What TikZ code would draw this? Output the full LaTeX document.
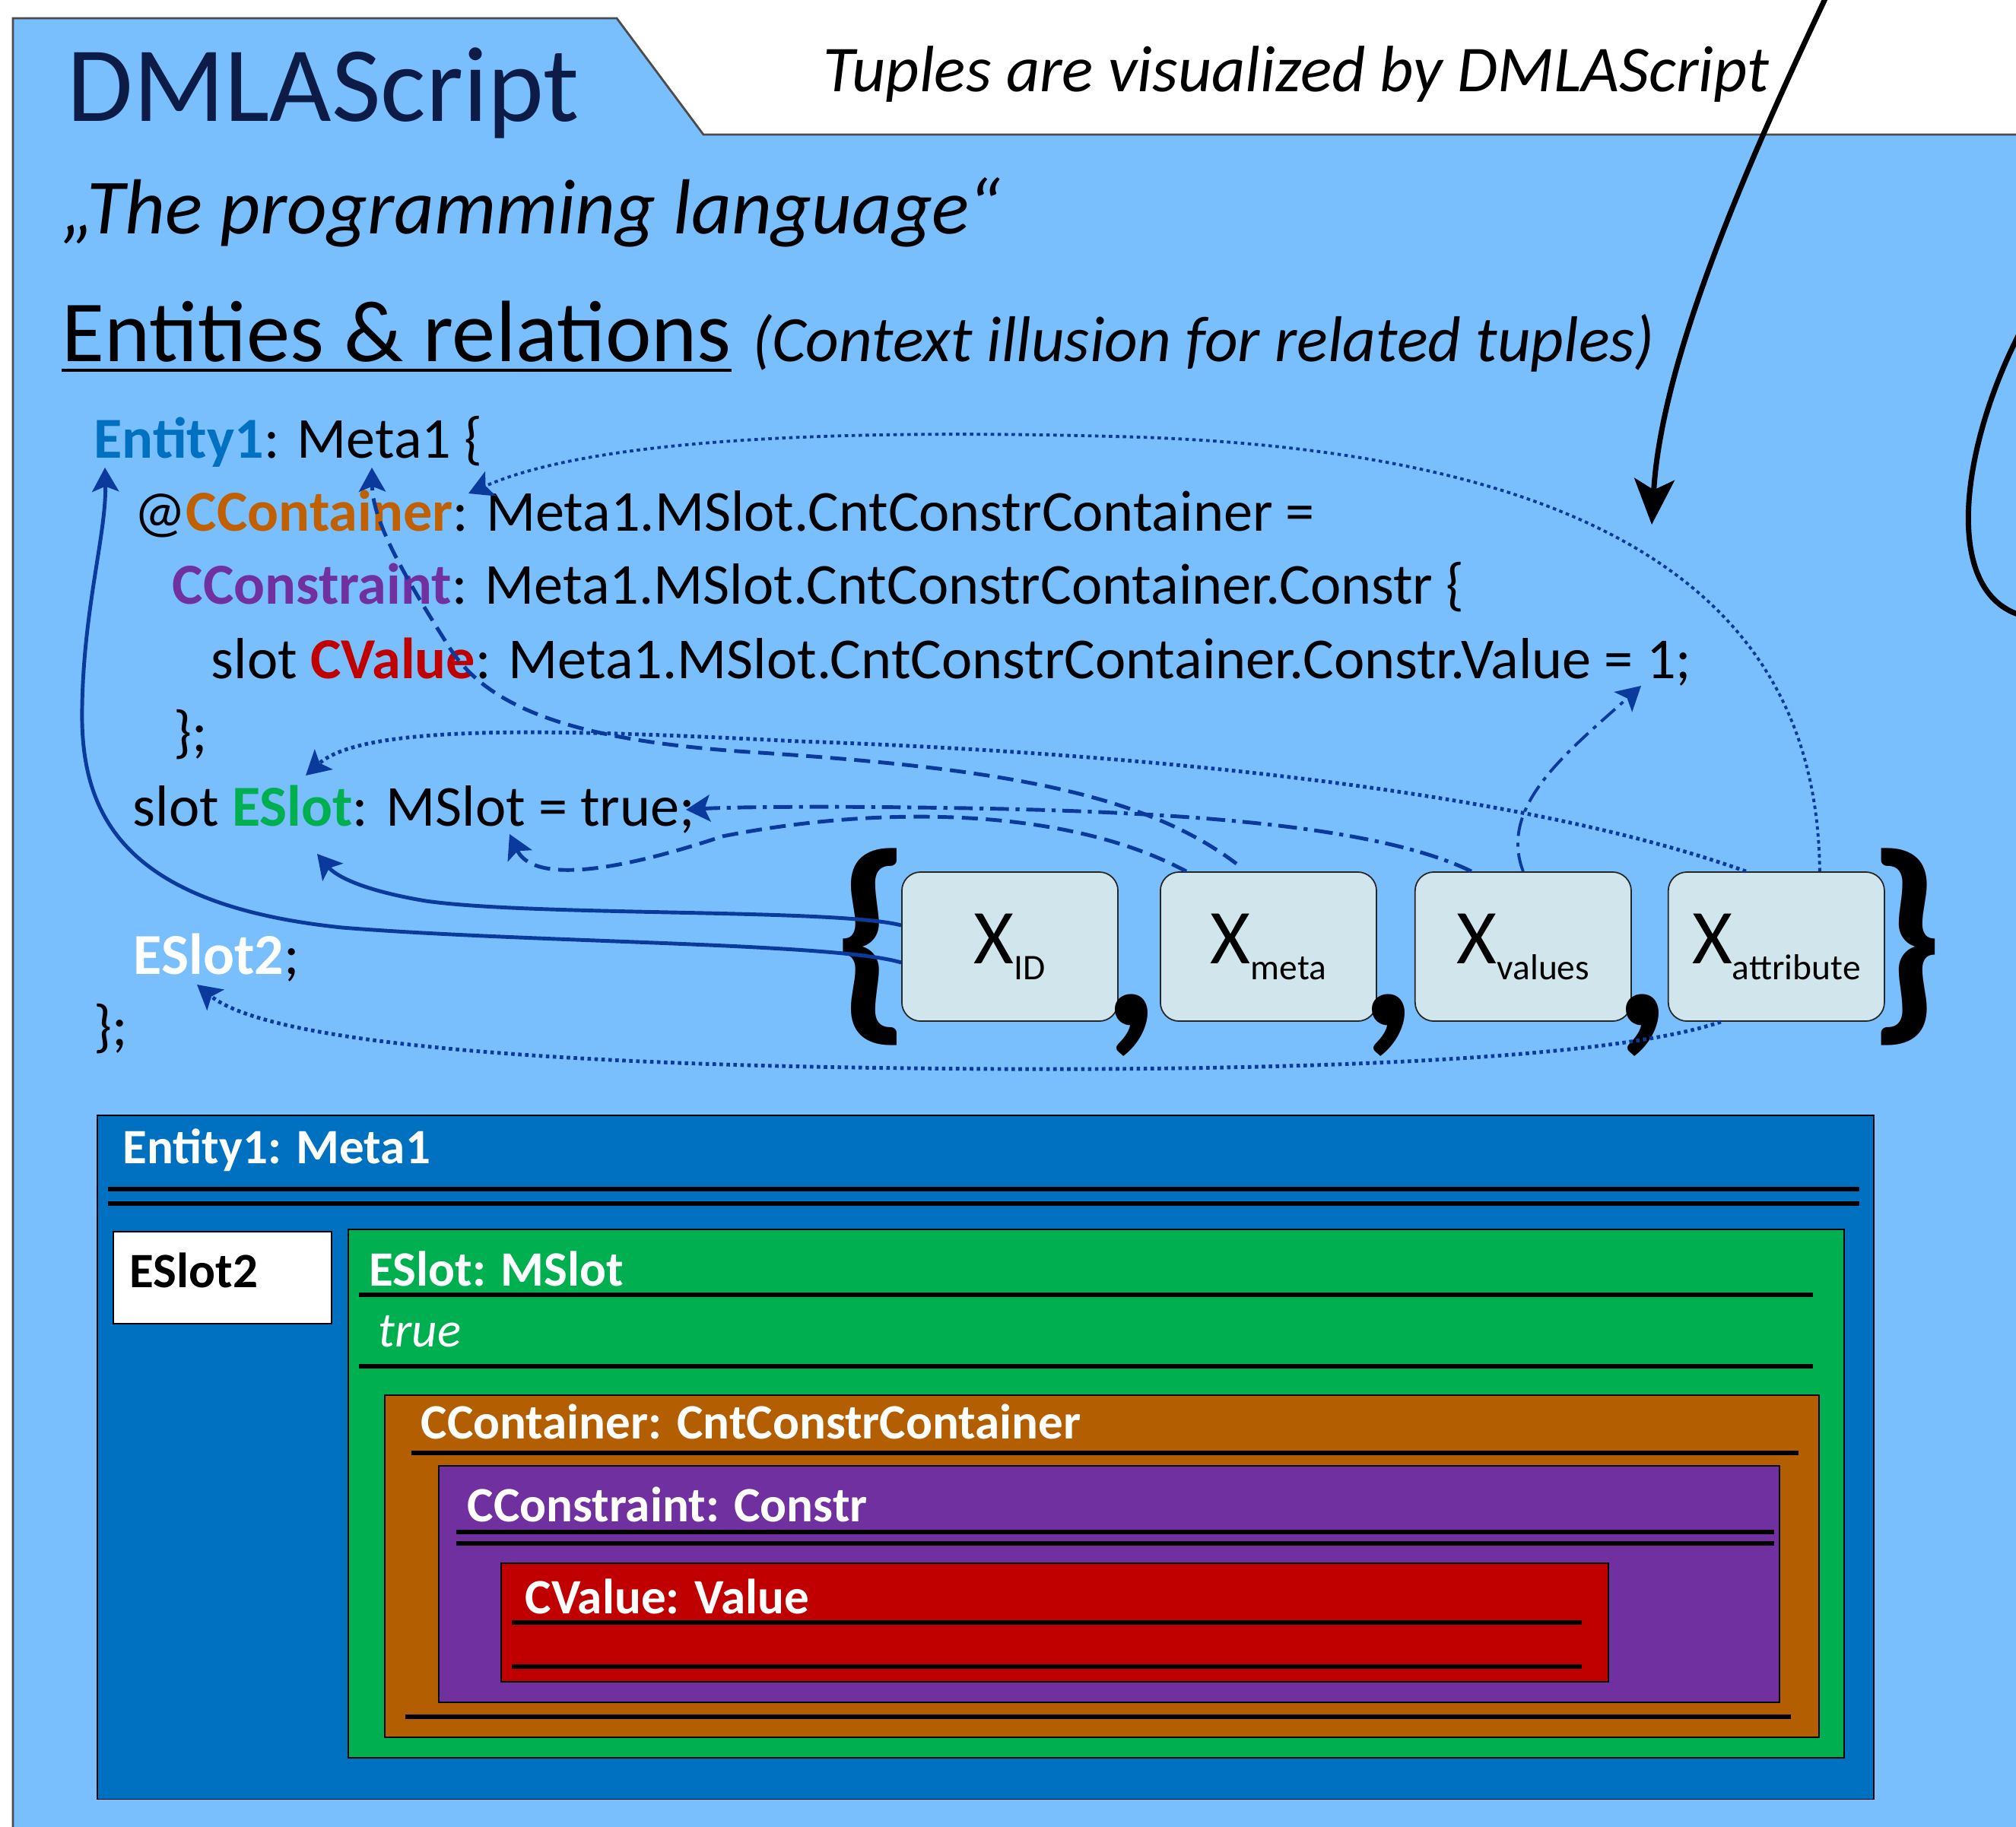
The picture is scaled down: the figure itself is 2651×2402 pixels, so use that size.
\documentclass[tikz,border=0pt]{standalone}
\usepackage{fontspec}
\setmainfont{Carlito}
\usetikzlibrary{positioning, arrows.meta, calc}
\definecolor{PanelB}{HTML}{79BEFD}
\definecolor{NavyA}{HTML}{0C1C46}
\definecolor{LinkA}{HTML}{0A3A9C}
\definecolor{TupleB}{HTML}{D0E6EC}
\definecolor{EntA}{HTML}{0070C0}
\definecolor{SlotA}{HTML}{00B050}
\definecolor{ContA}{HTML}{B35E00}
\definecolor{ContT}{HTML}{C06000}
\definecolor{ConsA}{HTML}{7030A0}
\definecolor{ValA}{HTML}{C00000}
\newcommand{\tsub}[1]{X\raisebox{-6pt}{\fontsize{13.5}{15}\selectfont #1}}
\tikzset{
  txt/.style={anchor=base west, inner sep=0pt},
  code/.style={txt, font=\fontsize{21.7}{25}\selectfont},
  tuple/.style={draw=black!85, fill=TupleB, rounded corners=7pt, minimum width=2.84cm, minimum height=1.96cm, font=\fontsize{29}{32}\selectfont, line width=0.5pt},
  brace/.style={inner sep=0pt, font=\fontsize{84}{88}\selectfont\bfseries},
  frame/.style={draw=black, line width=0.5pt, anchor=north west, inner sep=0pt},
  title/.style={txt, text=white, font=\fontsize{18.5}{22}\selectfont\bfseries},
  rule/.style={line width=1.7pt},
  bigarr/.style={line width=2pt, -{Stealth[length=17pt, width=15pt, inset=4pt]}},
  link/.style={draw=LinkA, line width=1.4pt, -{Stealth[length=9pt, width=10pt, inset=2pt]}},
  dashlink/.style={link, dash pattern=on 6pt off 3pt},
  dotlink/.style={link, dash pattern=on 1.3pt off 1.3pt},
  dotdashlink/.style={link, dash pattern=on 7pt off 2.5pt on 1.5pt off 2.5pt}
}
\begin{document}
\begin{tikzpicture}[x=0.01cm, y=-0.01cm]
  \clip (0,0) rectangle (2651,2402);
  \fill[white] (0,0) rectangle (2651,2402);
  \filldraw[fill=PanelB, draw=black!70, line width=0.8pt] (17,2500) -- (17,24) -- (811,24) -- (925,177) -- (2700,177) -- (2700,2500) -- cycle;

  \node[txt, text=NavyA, font=\fontsize{40}{44}\selectfont] (ttl) at (88,159) {DMLAScript};
  \node[txt, font=\fontsize{24.5}{28}\selectfont\itshape] (tup) at (1082,120) {Tuples are visualized by DMLAScript};
  \node[txt, font=\fontsize{29.2}{34}\selectfont\itshape] (lang) at (81,307) {„The programming language“};
  \node[txt, font=\fontsize{32.6}{36}\selectfont] (er) at (81,475) {Entities \& relations};
  \draw[line width=1.2pt] ($(er.base west)+(0,12)$) -- ($(er.base east)+(0,12)$);
  \node[txt, font=\fontsize{24.2}{27}\selectfont\itshape] (ctx) at (989,475) {(Context illusion for related tuples)};

  \node[code] (l1) at (123,602) {\textcolor{EntA}{\textbf{Entity1}}: Meta1 \{};
  \node[code] (l2) at ($(l1.base west)+(53,96)$) {@\textcolor{ContT}{\textbf{CContainer}}: Meta1.MSlot.CntConstrContainer =};
  \node[code] (l3) at ($(l2.base west)+(50,96)$) {\textcolor{ConsA}{\textbf{CConstraint}}: Meta1.MSlot.CntConstrContainer.Constr \{};
  \node[code] (l4) at ($(l3.base west)+(51,98)$) {slot \textcolor{ValA}{\textbf{CValue}}: Meta1.MSlot.CntConstrContainer.Constr.Value = 1;};
  \node[code] (l5) at ($(l4.base west)+(-49,96)$) {\};};
  \node[code] (l6) at ($(l5.base west)+(-54,98)$) {slot \textcolor{SlotA}{\textbf{ESlot}}: MSlot = true;};
  \node[code] (l7) at ($(l6.base west)+(1,195)$) {\textcolor{white}{\textbf{ESlot2}};};
  \node[code] (l8) at ($(l7.base west)+(-52,94)$) {\};};

  \node[tuple] (xid) at (1328,1245) {\tsub{ID}};
  \node[tuple, right=0.54cm of xid] (xmeta) {\tsub{meta}};
  \node[tuple, right=0.49cm of xmeta] (xval) {\tsub{values}};
  \node[tuple, right=0.47cm of xval] (xattr) {\tsub{attribute}};
  \node[brace, left=-0.14cm of xid] (bl) {\{};
  \node[brace, right=-0.24cm of xattr] (br) {\}};
  \node[brace, anchor=north] (c1) at ($(xid.east)!0.5!(xmeta.west)+(-10,62)$) {,};
  \node[brace, anchor=north] (c2) at ($(xmeta.east)!0.5!(xval.west)+(-10,62)$) {,};
  \node[brace, anchor=north] (c3) at ($(xval.east)!0.5!(xattr.west)+(-10,62)$) {,};

  \coordinate (tEnt) at (138,615);
  \coordinate (tMeta) at (489,615);
  \coordinate (tColon) at (616,649);
  \coordinate (tESlot) at (402,1020);
  \coordinate (tESlotB) at (417,1123);
  \coordinate (tMSlot) at (670,1097);
  \coordinate (tTrue) at (902,1065);
  \coordinate (tOne) at (2158,902);
  \coordinate (tESlot2) at (259,1295);

  \draw[link] ($(xid.west)+(0,21)$) .. controls (1100,1240) and (700,1240) .. (450,1220) .. controls (160,1190) and (105,1070) .. (108,930) .. controls (110,800) and (140,700) .. (tEnt);
  \draw[link] ($(xid.west)+(0,-28)$) .. controls (1100,1195) and (700,1205) .. (560,1185) .. controls (470,1170) and (440,1150) .. (tESlotB);
  \draw[dashlink] ($(xmeta.north)+(-42,-10)$) .. controls (1500,1040) and (1300,1010) .. (1000,990) .. controls (750,975) and (640,930) .. (590,850) .. controls (520,740) and (490,680) .. (tMeta);
  \draw[dashlink] ($(xmeta.north)+(-108,0)$) .. controls (1400,1060) and (1150,1060) .. (950,1100) .. controls (800,1150) and (700,1160) .. (tMSlot);
  \draw[dotdashlink] ($(xval.north)+(-68,0)$) .. controls (1800,1080) and (1500,1065) .. (1200,1062) .. controls (1050,1060) and (950,1062) .. (tTrue);
  \draw[dotdashlink, line width=1.1pt] (xval.north) .. controls (1970,1060) and (2060,990) .. (tOne);
  \draw[dotlink] ($(xattr.north)+(-40,0)$) .. controls (2000,1040) and (1500,990) .. (1050,975) .. controls (750,960) and (480,950) .. (tESlot);
  \draw[dotlink, line width=1.1pt] ($(xattr.north)+(57,0)$) .. controls (2390,850) and (2200,600) .. (1500,575) .. controls (1000,560) and (750,590) .. (tColon);
  \draw[dotlink] ($(xattr.south)+(-73,0)$) .. controls (2100,1400) and (1600,1410) .. (1200,1405) .. controls (700,1400) and (350,1370) .. (tESlot2);

  \coordinate (src) at (2404,-10);
  \coordinate (dst) at (2172,690);
  \draw[bigarr] (src) .. controls (2300,210) and (2185,470) .. (dst);
  \coordinate (rin) at (2660,430);
  \coordinate (rout) at (2660,810);
  \draw[line width=2pt] (rin) .. controls (2580,580) and (2550,780) .. (rout);

  \node[frame, fill=EntA, minimum width=23.35cm, minimum height=8.99cm] (ent) at (127,1466) {};
  \node[title] (entT) at ($(ent.north west)+(34,64)$) {Entity1: Meta1};
  \draw[rule] ($(ent.north west)+(15,98)$) -- ++(2303,0);
  \draw[rule] ($(ent.north west)+(15,117)$) -- ++(2303,0);

  \node[frame, fill=white, minimum width=2.87cm, minimum height=1.21cm] (es2) at (148,1619) {};
  \node[txt, font=\fontsize{18.5}{22}\selectfont\bfseries] (es2T) at ($(es2.north west)+(22,74)$) {ESlot2};

  \node[frame, fill=SlotA, minimum width=19.66cm, minimum height=6.95cm] (es) at (457,1616) {};
  \node[title] (esT) at ($(es.north west)+(28,75)$) {ESlot: MSlot};
  \draw[rule] ($(es.north west)+(15,87)$) -- ++(1912,0);
  \node[txt, text=white, font=\fontsize{18.5}{22}\selectfont\itshape] (esV) at ($(es.north west)+(40,155)$) {true};
  \draw[rule] ($(es.north west)+(15,181)$) -- ++(1912,0);

  \node[frame, fill=ContA, minimum width=18.85cm, minimum height=4.5cm] (cc) at (505,1834) {};
  \node[title] (ccT) at ($(cc.north west)+(48,58)$) {CContainer: CntConstrContainer};
  \draw[rule] ($(cc.north west)+(36,77)$) -- ++(1824,0);
  \draw[rule] ($(cc.north west)+(28,424)$) -- ++(1822,0);

  \node[frame, fill=ConsA, minimum width=17.62cm, minimum height=3.11cm] (cs) at (576,1927) {};
  \node[title] (csT) at ($(cs.north west)+(38,74)$) {CConstraint: Constr};
  \draw[rule] ($(cs.north west)+(24,88)$) -- ++(1733,0);
  \draw[rule] ($(cs.north west)+(24,103)$) -- ++(1733,0);

  \node[frame, fill=ValA, minimum width=14.55cm, minimum height=1.56cm] (cv) at (658,2055) {};
  \node[title] (cvT) at ($(cv.north west)+(32,67)$) {CValue: Value};
  \draw[rule] ($(cv.north west)+(15,79)$) -- ++(1407,0);
  \draw[rule] ($(cv.north west)+(15,137)$) -- ++(1407,0);
\end{tikzpicture}
\end{document}
